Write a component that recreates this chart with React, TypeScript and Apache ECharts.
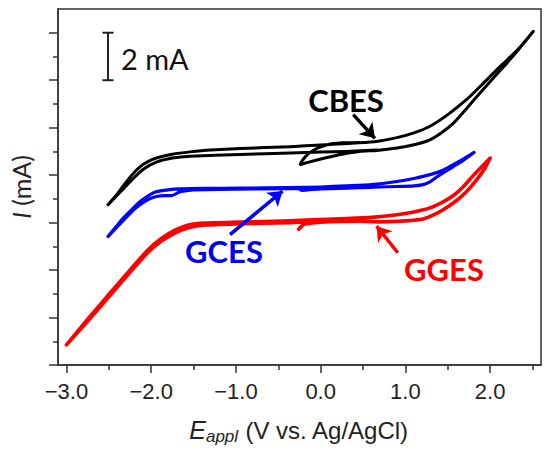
import React, { useEffect, useRef } from "react";
import * as echarts from "echarts";

// Axis ticks
const xMajorTicks = [-3, -2, -1, 0, 1, 2];
const xMinorTicks = [-2.5, -1.5, -0.5, 0.5, 1.5, 2.5];
const yMajorTicks = [0, 2, 4, 6, 8, 10, 12, 14];
const yMinorTicks = [1, 3, 5, 7, 9, 11, 13];

// CBES (black) cyclic voltammogram, [E (V), I (mA, offset)]
const cbesData: [number, number][] = [
  [0.45, 9.38], [0.25, 9.36], [0.08, 9.28], [-0.06, 9.1], [-0.16, 8.85], [-0.22, 8.6], [-0.24, 8.45],
  [-0.14, 8.55], [0.05, 8.72], [0.25, 8.88], [0.46, 9.0],
  [0.66, 9.04], [0.9, 9.14], [1.1, 9.28], [1.29, 9.49], [1.43, 9.8], [1.57, 10.2], [1.72, 10.8],
  [1.88, 11.46], [2.04, 12.1], [2.2, 12.73], [2.36, 13.4], [2.51, 14.06],
  [2.36, 13.42], [2.2, 12.85], [2.08, 12.45], [1.9, 11.8], [1.72, 11.18], [1.5, 10.55], [1.29, 10.06],
  [1.1, 9.78], [0.9, 9.58], [0.66, 9.42], [0.45, 9.36], [0.2, 9.31], [0.0, 9.27], [-0.36, 9.2],
  [-0.95, 9.12], [-1.3, 9.06], [-1.54, 8.98], [-1.75, 8.88], [-1.94, 8.72], [-2.05, 8.55], [-2.13, 8.36],
  [-2.23, 8.0], [-2.33, 7.55], [-2.42, 7.12], [-2.51, 6.75],
  [-2.43, 7.05], [-2.33, 7.42], [-2.2, 7.9], [-2.08, 8.28], [-1.94, 8.55], [-1.75, 8.72], [-1.54, 8.8],
  [-0.95, 8.87], [-0.36, 8.93], [0.0, 8.97], [0.3, 9.0], [0.66, 9.06],
];

// GCES (blue)
const gcesData: [number, number][] = [
  [0.46, 7.55], [0.1, 7.5], [-0.26, 7.43], [-0.22, 7.36], [0.0, 7.42], [0.46, 7.47],
  [0.7, 7.5], [0.9, 7.52], [1.1, 7.55], [1.21, 7.6], [1.3, 7.74], [1.37, 7.92], [1.5, 8.22], [1.64, 8.52], [1.81, 8.96],
  [1.7, 8.72], [1.57, 8.45], [1.45, 8.22], [1.29, 8.02], [1.1, 7.86], [0.9, 7.73], [0.6, 7.6], [0.3, 7.55],
  [0.0, 7.5], [-0.36, 7.47], [-0.95, 7.45], [-1.4, 7.44], [-1.66, 7.42], [-1.8, 7.38], [-1.94, 7.3],
  [-2.04, 7.12], [-2.13, 6.89], [-2.23, 6.55], [-2.33, 6.19], [-2.42, 5.8], [-2.51, 5.41],
  [-2.42, 5.75], [-2.3, 6.2], [-2.18, 6.62], [-2.05, 6.95], [-1.94, 7.1], [-1.84, 7.14], [-1.76, 7.14],
  [-1.66, 7.3], [-1.5, 7.38], [-1.0, 7.41], [-0.36, 7.43], [0.0, 7.45], [0.46, 7.5],
];

// GGES (red)
const ggesData: [number, number][] = [
  [-0.26, 5.72], [-0.2, 5.92], [0.0, 6.02], [0.46, 6.06],
  [0.7, 6.03], [0.9, 6.05], [1.1, 6.1], [1.21, 6.15], [1.32, 6.3], [1.45, 6.55], [1.6, 6.92], [1.72, 7.3],
  [1.84, 7.8], [1.94, 8.3], [2.0, 8.72],
  [1.9, 8.35], [1.8, 7.98], [1.68, 7.5], [1.57, 7.15], [1.45, 6.88], [1.29, 6.62], [1.1, 6.45], [0.9, 6.33],
  [0.6, 6.22], [0.3, 6.17], [0.0, 6.13], [-0.36, 6.08], [-0.95, 6.02], [-1.37, 5.98], [-1.56, 5.9],
  [-1.72, 5.68], [-1.88, 5.33], [-2.04, 4.85], [-2.27, 3.92], [-2.51, 2.93], [-2.74, 1.97], [-3.0, 0.85],
  [-2.74, 1.88], [-2.51, 2.83], [-2.27, 3.82], [-2.04, 4.74], [-1.88, 5.22], [-1.72, 5.56], [-1.56, 5.78],
  [-1.37, 5.9], [-0.95, 5.95], [-0.36, 6.0], [0.0, 6.05], [0.46, 6.1],
];

// Scale bar (2 mA) and arrows, in data units
const scaleBarX = -2.51;
const scaleBarCap = 0.065;
const scaleBarY = [12, 14];
const cbesArrow: [number, number][] = [[0.385, 10.55], [0.64, 9.55]];
const gcesArrow: [number, number][] = [[-1.07, 5.49], [-0.45, 7.33]];
const ggesArrow: [number, number][] = [[0.91, 4.73], [0.66, 5.85]];

const fmt = (v: number) => (v < 0 ? "\u2212" : "") + Math.abs(v).toFixed(1);

function arrowLine(pts: [number, number][], color: string) {
  return {
    silent: true,
    animation: false,
    symbol: ["none", "arrow"],
    symbolSize: 14,
    label: { show: false },
    emphasis: { disabled: true },
    lineStyle: { color, width: 3.5, type: "solid" },
    data: [[{ coord: pts[0] }, { coord: pts[1] }]],
  };
}

export default function App() {
  const ref = useRef<HTMLDivElement>(null);
  useEffect(() => {
    document.body.style.margin = "0";
    if (!ref.current) return;
    const chart = echarts.init(ref.current, undefined, { renderer: "svg" });
    const axisColor = "#333";
    const lineSeries = (name: string, data: any, color: string, width: number) => ({
      name,
      type: "line",
      data,
      symbol: "none",
      smooth: 0.15,
      smoothMonotone: "none",
      lineStyle: { color, width, cap: "round", join: "round" },
      emphasis: { disabled: true },
      silent: true,
      z: 3,
    });
    const barStyle = { smooth: false, lineStyle: { color: "#222", width: 2, cap: "butt" } };
    chart.setOption({
      animation: false,
      grid: {
        left: 58,
        right: 9,
        top: 9,
        bottom: 93,
        show: true,
        borderColor: axisColor,
        borderWidth: 1.5,
      },
      xAxis: [
        {
          type: "value",
          min: -3.1,
          max: 2.6,
          position: "bottom",
          axisLine: { show: true, onZero: false, lineStyle: { color: axisColor, width: 1.5 } },
          axisTick: { show: true, customValues: xMajorTicks, length: 8, lineStyle: { color: axisColor, width: 1.5 } },
          axisLabel: {
            show: true,
            customValues: xMajorTicks,
            formatter: (v: number) => fmt(v),
            margin: 15,
            fontSize: 22,
            fontFamily: "Liberation Sans",
            color: "#222",
          },
          splitLine: { show: false },
        },
        {
          type: "value",
          min: -3.1,
          max: 2.6,
          position: "bottom",
          axisLine: { show: false, onZero: false },
          axisTick: { show: true, customValues: xMinorTicks, length: 5, lineStyle: { color: axisColor, width: 1.5 } },
          axisLabel: { show: false },
          splitLine: { show: false },
        },
      ],
      yAxis: [
        {
          type: "value",
          min: 0,
          max: 15,
          position: "left",
          axisLine: { show: true, onZero: false, lineStyle: { color: axisColor, width: 1.5 } },
          axisTick: { show: true, customValues: yMajorTicks, length: 9, lineStyle: { color: axisColor, width: 1.5 } },
          axisLabel: { show: false },
          splitLine: { show: false },
        },
        {
          type: "value",
          min: 0,
          max: 15,
          position: "left",
          axisLine: { show: false, onZero: false },
          axisTick: { show: true, customValues: yMinorTicks, length: 5, lineStyle: { color: axisColor, width: 1.5 } },
          axisLabel: { show: false },
          splitLine: { show: false },
        },
      ],
      series: [
        { ...lineSeries("CBES", cbesData, "#000000", 3), markLine: arrowLine(cbesArrow, "#000000") },
        { ...lineSeries("GCES", gcesData, "#0000ff", 3.2), markLine: arrowLine(gcesArrow, "#0000ff") },
        { ...lineSeries("GGES", ggesData, "#ff0000", 3.6), markLine: arrowLine(ggesArrow, "#ff0000") },
        { ...lineSeries("bar", [[scaleBarX, scaleBarY[0]], [scaleBarX, scaleBarY[1]]], "#222", 2), ...barStyle },
        {
          ...lineSeries("cap1", [[scaleBarX - scaleBarCap, scaleBarY[0]], [scaleBarX + scaleBarCap, scaleBarY[0]]], "#222", 2),
          ...barStyle,
        },
        {
          ...lineSeries("cap2", [[scaleBarX - scaleBarCap, scaleBarY[1]], [scaleBarX + scaleBarCap, scaleBarY[1]]], "#222", 2),
          ...barStyle,
        },
      ],
      graphic: [
        {
          type: "text",
          x: 121,
          y: 58,
          style: { text: "2 mA", fill: "#111", fontSize: 29, fontFamily: "Lato", align: "left", verticalAlign: "middle" },
        },
        {
          type: "text",
          x: 346,
          y: 100,
          style: { text: "CBES", fill: "#000", fontSize: 31, fontWeight: "bold", fontFamily: "Lato", align: "center", verticalAlign: "middle" },
        },
        {
          type: "text",
          x: 224,
          y: 251,
          style: { text: "GCES", fill: "#0000ee", fontSize: 31, fontWeight: "bold", fontFamily: "Lato", align: "center", verticalAlign: "middle" },
        },
        {
          type: "text",
          x: 444,
          y: 269,
          style: { text: "GGES", fill: "#ff0000", fontSize: 31, fontWeight: "bold", fontFamily: "Lato", align: "center", verticalAlign: "middle" },
        },
        {
          type: "text",
          x: 299,
          y: 430,
          style: {
            text: "{e|E}{s|appl}{n| (V vs. Ag/AgCl)}",
            align: "center",
            verticalAlign: "middle",
            fill: "#222",
            rich: {
              e: { fontSize: 25, fontStyle: "italic", fontFamily: "Liberation Sans", fill: "#222", lineHeight: 30 },
              s: { fontSize: 17, fontStyle: "italic", fontFamily: "Liberation Sans", fill: "#222", lineHeight: 10, verticalAlign: "bottom" },
              n: { fontSize: 24, fontFamily: "Liberation Sans", fill: "#222", lineHeight: 30 },
            },
          },
        },
        {
          type: "text",
          x: 21,
          y: 187,
          rotation: Math.PI / 2,
          style: {
            text: "{i|I} (mA)",
            align: "center",
            verticalAlign: "middle",
            fill: "#222",
            rich: {
              i: { fontSize: 25, fontStyle: "italic", fontFamily: "Lato", fill: "#222", lineHeight: 30 },
              n: { fontSize: 25, fontFamily: "Lato", fill: "#222", lineHeight: 30 },
            },
            fontSize: 25,
            fontFamily: "Lato",
          },
        },
      ],
    });
    return () => chart.dispose();
  }, []);
  return <div ref={ref} style={{ width: 550, height: 458 }} />;
}
